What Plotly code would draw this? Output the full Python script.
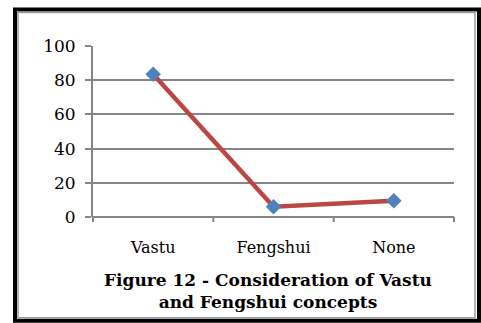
import plotly.graph_objects as go

categories = ["Vastu", "Fengshui", "None"]
values = [83.5, 6, 9.5]
y_ticks = [0, 20, 40, 60, 80, 100]

W, H = 481, 323
L, R, T, B = 93, 454, 45.5, 217  # plot area in pixels


def px(x):
    return (x - L) / (R - L)


def py(y):
    return (B - y) / (B - T)


fig = go.Figure()
fig.add_trace(go.Scatter(
    x=categories, y=values, mode="lines+markers",
    line=dict(color="#BA4744", width=4.5),
    marker=dict(symbol="diamond", size=12, color="#4F81BD"),
    showlegend=False, cliponaxis=False,
))

serif = "DejaVu Serif, serif"

fig.update_layout(
    width=W, height=H,
    margin=dict(l=L, r=W - R, t=T, b=H - B),
    paper_bgcolor="white", plot_bgcolor="white",
    font=dict(family=serif, size=16, color="black"),
    xaxis=dict(
        type="category", range=[-0.5, 2.5],
        showgrid=False, showline=False, zeroline=False,
        ticks="", tickfont=dict(size=16), ticklabelstandoff=19,
    ),
    yaxis=dict(
        range=[0, 100], tickvals=y_ticks, showgrid=True,
        gridcolor="#868686", gridwidth=2, zeroline=False,
        showline=True, linecolor="#868686", linewidth=2,
        ticks="outside", ticklen=6, tickcolor="#868686", tickwidth=2,
        tickfont=dict(size=17), ticklabelstandoff=6,
    ),
)

# category axis baseline with tick marks between categories
grey = dict(color="#868686", width=2)
fig.add_shape(type="line", xref="paper", yref="paper",
              x0=0, x1=1, y0=0, y1=0, line=grey)
for k in range(len(categories) + 1):
    xf = k / len(categories)
    fig.add_shape(type="line", xref="paper", yref="paper",
                  x0=xf, x1=xf, y0=0, y1=py(B + 5), line=grey)

# frame: thick black outer border with a thin grey border inside
fig.add_shape(type="rect", xref="paper", yref="paper",
              x0=px(15), x1=px(479), y0=py(9), y1=py(321),
              line=dict(color="black", width=4), layer="above")
fig.add_shape(type="rect", xref="paper", yref="paper",
              x0=px(18), x1=px(475), y0=py(12), y1=py(318),
              line=dict(color="#9A9A9A", width=1.5), layer="above")

fig.add_annotation(
    xref="paper", yref="paper", x=px(268), y=py(291),
    text="<b>Figure 12 - Consideration of Vastu<br>and Fengshui concepts</b>",
    showarrow=False, font=dict(family=serif, size=17, color="black"),
    align="center", xanchor="center", yanchor="middle",
)

fig.write_html("out.html")
